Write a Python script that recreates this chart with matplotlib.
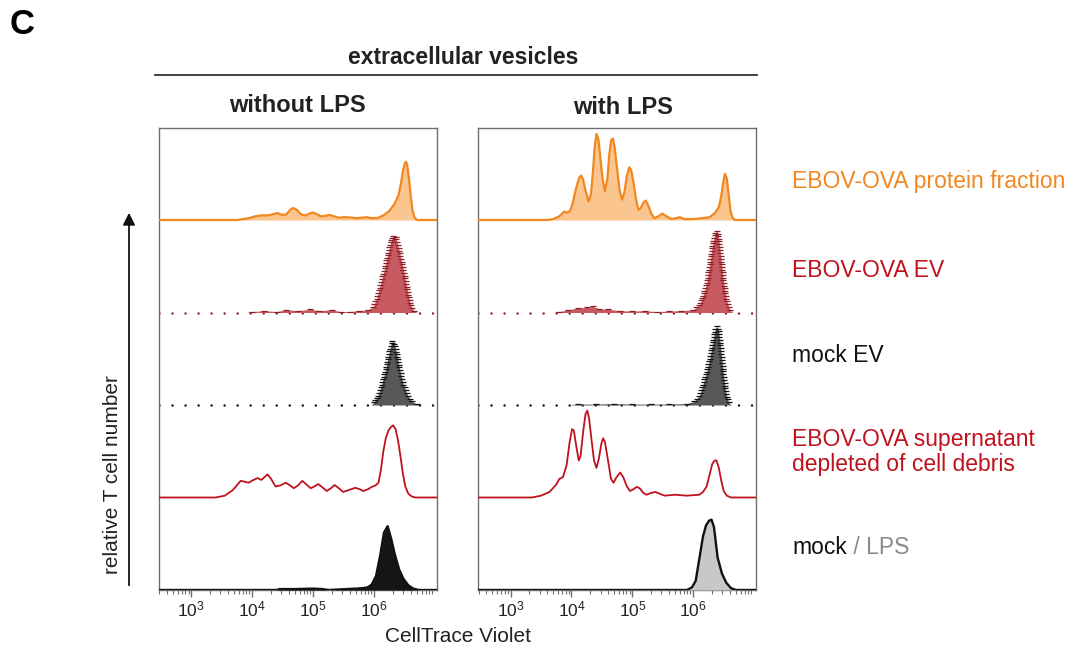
"""Stacked CellTrace Violet histograms (T cell proliferation), panel C."""

import matplotlib
matplotlib.use("Agg")
import matplotlib.pyplot as plt
import numpy as np
from matplotlib.lines import Line2D
from matplotlib.patches import FancyArrowPatch
from matplotlib.ticker import FixedLocator, FixedFormatter, LogLocator, NullFormatter

plt.rcParams["font.family"] = ["Liberation Sans", "DejaVu Sans"]
plt.rcParams["mathtext.fontset"] = "custom"
plt.rcParams["mathtext.rm"] = "Liberation Sans"

# --- data: x in log10(CellTrace Violet), y as fraction of one row height ---
ROW_LABELS = [
    "EBOV-OVA protein fraction",
    "EBOV-OVA EV",
    "mock EV",
    "EBOV-OVA supernatant\ndepleted of cell debris",
    "mock",
]
PANEL_TITLES = ["without LPS", "with LPS"]
TICK_DECADES = [3, 4, 5, 6]

# protein fraction
prot_wo_x = [2.47, 3.75, 3.85, 3.95, 4.05, 4.15, 4.25, 4.33, 4.41, 4.49, 4.56, 4.62, 4.67, 4.73, 4.80,
             4.88, 4.94, 4.99, 5.05, 5.13, 5.20, 5.27, 5.34, 5.42, 5.50, 5.56, 5.63, 5.72, 5.80, 5.88,
             5.95, 6.05, 6.15, 6.25, 6.33, 6.40, 6.44, 6.47, 6.50, 6.52, 6.54, 6.57, 6.60, 6.63, 6.66,
             6.70, 7.03]
prot_wo_y = [0, 0, 0.01, 0.02, 0.04, 0.05, 0.05, 0.06, 0.075, 0.055, 0.06, 0.11, 0.13, 0.11, 0.06,
             0.05, 0.07, 0.08, 0.065, 0.04, 0.045, 0.055, 0.04, 0.025, 0.03, 0.03, 0.025, 0.02, 0.025, 0.03,
             0.02, 0.02, 0.05, 0.10, 0.17, 0.27, 0.40, 0.53, 0.61, 0.63, 0.60, 0.45, 0.25, 0.10, 0.03,
             0, 0]
prot_w_x = [2.47, 3.60, 3.70, 3.80, 3.88, 3.93, 3.98, 4.02, 4.06, 4.10, 4.13, 4.16, 4.19, 4.23, 4.28,
            4.32, 4.35, 4.38, 4.41, 4.44, 4.47, 4.51, 4.55, 4.59, 4.62, 4.65, 4.68, 4.71, 4.75, 4.79,
            4.83, 4.87, 4.91, 4.95, 4.98, 5.02, 5.06, 5.10, 5.14, 5.18, 5.22, 5.26, 5.31, 5.36, 5.43,
            5.49, 5.56, 5.64, 5.72, 5.78, 5.85, 6.00, 6.15, 6.27, 6.36, 6.42, 6.46, 6.49, 6.52, 6.55,
            6.58, 6.61, 6.64, 6.68, 7.03]
prot_w_y = [0, 0, 0.01, 0.04, 0.09, 0.08, 0.10, 0.18, 0.30, 0.40, 0.46, 0.48, 0.44, 0.32, 0.20,
            0.28, 0.50, 0.78, 0.93, 0.88, 0.70, 0.45, 0.31, 0.45, 0.70, 0.86, 0.88, 0.78, 0.55, 0.32,
            0.22, 0.30, 0.48, 0.57, 0.54, 0.40, 0.22, 0.11, 0.13, 0.19, 0.21, 0.16, 0.07, 0.02, 0.04,
            0.07, 0.04, 0.01, 0.02, 0.03, 0.01, 0.01, 0.02, 0.03, 0.08, 0.14, 0.26, 0.40, 0.50, 0.45,
            0.28, 0.10, 0.03, 0, 0]

# EBOV-OVA EV
ev_wo_x = [2.47, 3.90, 4.00, 4.20, 4.40, 4.55, 4.75, 4.95, 5.10, 5.30, 5.45, 5.60, 5.75, 5.90, 5.98,
           6.04, 6.10, 6.16, 6.22, 6.27, 6.31, 6.35, 6.40, 6.45, 6.50, 6.55, 6.60, 6.65, 6.70, 7.03]
ev_wo_y = [0, 0, 0.01, 0.02, 0.01, 0.03, 0.02, 0.035, 0.02, 0.03, 0.01, 0.01, 0.02, 0.03, 0.06,
           0.15, 0.30, 0.45, 0.62, 0.76, 0.83, 0.82, 0.70, 0.55, 0.40, 0.22, 0.08, 0.02, 0, 0]
ev_w_x = [2.47, 3.70, 3.80, 3.95, 4.10, 4.25, 4.35, 4.45, 4.60, 4.80, 5.00, 5.20, 5.40, 5.60, 5.80,
          6.00, 6.10, 6.16, 6.22, 6.27, 6.32, 6.36, 6.39, 6.42, 6.46, 6.50, 6.55, 6.60, 6.65, 7.03]
ev_w_y = [0, 0, 0.01, 0.03, 0.05, 0.055, 0.065, 0.04, 0.035, 0.02, 0.015, 0.02, 0.01, 0.015, 0.02,
          0.03, 0.08, 0.18, 0.32, 0.52, 0.75, 0.86, 0.88, 0.80, 0.55, 0.32, 0.12, 0.03, 0, 0]

# mock EV
mev_wo_x = [2.47, 5.95, 6.00, 6.06, 6.12, 6.18, 6.23, 6.27, 6.30, 6.33, 6.37, 6.42, 6.48, 6.55,
            6.62, 6.70, 6.76, 7.03]
mev_wo_y = [0, 0, 0.03, 0.10, 0.22, 0.36, 0.52, 0.64, 0.69, 0.66, 0.55, 0.38, 0.22, 0.10,
            0.04, 0.01, 0, 0]
mev_w_x = [2.47, 3.90, 4.10, 4.40, 4.70, 5.00, 5.30, 5.60, 5.90, 6.02, 6.10, 6.16, 6.22, 6.27,
           6.32, 6.36, 6.39, 6.42, 6.46, 6.50, 6.54, 6.58, 6.62, 7.03]
mev_w_y = [0, 0, 0.01, 0.01, 0.015, 0.01, 0.01, 0.01, 0.015, 0.04, 0.10, 0.22, 0.36, 0.50,
           0.68, 0.82, 0.85, 0.80, 0.55, 0.30, 0.12, 0.03, 0, 0]

# supernatant depleted of cell debris
sup_wo_x = [2.47, 3.40, 3.55, 3.68, 3.81, 3.88, 3.94, 4.02, 4.09, 4.15, 4.20, 4.25, 4.31, 4.38, 4.46,
            4.55, 4.62, 4.68, 4.75, 4.82, 4.89, 4.96, 5.02, 5.08, 5.15, 5.22, 5.29, 5.35, 5.42, 5.49,
            5.58, 5.69, 5.76, 5.82, 5.90, 5.96, 6.02, 6.07, 6.11, 6.15, 6.19, 6.23, 6.27, 6.31, 6.35,
            6.39, 6.43, 6.47, 6.51, 6.56, 6.62, 6.68, 7.03]
sup_wo_y = [0, 0, 0.02, 0.08, 0.18, 0.17, 0.16, 0.19, 0.21, 0.19, 0.22, 0.25, 0.20, 0.12, 0.13,
            0.16, 0.13, 0.10, 0.13, 0.18, 0.14, 0.10, 0.12, 0.145, 0.11, 0.07, 0.10, 0.135, 0.10, 0.06,
            0.08, 0.105, 0.09, 0.07, 0.09, 0.115, 0.13, 0.16, 0.30, 0.50, 0.64, 0.72, 0.76, 0.78, 0.74,
            0.62, 0.45, 0.26, 0.12, 0.04, 0.01, 0, 0]
sup_w_x = [2.47, 3.35, 3.50, 3.64, 3.75, 3.80, 3.86, 3.92, 3.97, 4.01, 4.04, 4.08, 4.12, 4.15, 4.19,
           4.23, 4.26, 4.29, 4.33, 4.37, 4.41, 4.45, 4.49, 4.52, 4.55, 4.60, 4.65, 4.69, 4.74, 4.80,
           4.85, 4.91, 4.96, 5.02, 5.07, 5.12, 5.18, 5.23, 5.31, 5.38, 5.45, 5.53, 5.62, 5.70, 5.80,
           5.89, 6.00, 6.10, 6.16, 6.22, 6.27, 6.31, 6.35, 6.38, 6.42, 6.46, 6.50, 6.55, 6.62, 7.03]
sup_w_y = [0, 0, 0.02, 0.06, 0.14, 0.20, 0.22, 0.35, 0.60, 0.74, 0.72, 0.55, 0.40, 0.45, 0.70,
           0.90, 0.94, 0.85, 0.62, 0.40, 0.32, 0.42, 0.58, 0.64, 0.60, 0.40, 0.20, 0.16, 0.22, 0.27,
           0.22, 0.12, 0.07, 0.09, 0.115, 0.10, 0.05, 0.03, 0.05, 0.06, 0.04, 0.02, 0.025, 0.03, 0.025,
           0.02, 0.025, 0.03, 0.06, 0.12, 0.25, 0.36, 0.40, 0.40, 0.32, 0.18, 0.07, 0.02, 0, 0]

# mock (left) / LPS (right)
mock_wo_x = [2.47, 4.40, 4.45, 4.70, 5.00, 5.15, 5.25, 5.40, 5.55, 5.70, 5.82, 5.90, 5.96, 6.03,
             6.10, 6.16, 6.22, 6.28, 6.34, 6.41, 6.48, 6.56, 6.64, 6.73, 7.03]
mock_wo_y = [0, 0, 0.01, 0.01, 0.015, 0.01, 0, 0.005, 0.01, 0.015, 0.02, 0.03, 0.06, 0.15,
             0.38, 0.62, 0.69, 0.55, 0.38, 0.22, 0.12, 0.05, 0.015, 0, 0]
lps_w_x = [2.47, 5.90, 5.98, 6.04, 6.10, 6.16, 6.21, 6.26, 6.30, 6.34, 6.40, 6.47, 6.54, 6.62,
           6.70, 7.03]
lps_w_y = [0, 0, 0.03, 0.10, 0.34, 0.58, 0.70, 0.75, 0.76, 0.68, 0.35, 0.18, 0.08, 0.02, 0, 0]

PANELS = [
    [(prot_wo_x, prot_wo_y), (ev_wo_x, ev_wo_y), (mev_wo_x, mev_wo_y),
     (sup_wo_x, sup_wo_y), (mock_wo_x, mock_wo_y)],
    [(prot_w_x, prot_w_y), (ev_w_x, ev_w_y), (mev_w_x, mev_w_y),
     (sup_w_x, sup_w_y), (lps_w_x, lps_w_y)],
]

# --- styling ---
ORANGE = "#F0881F"
ORANGE_FILL = "#FBC590"
RED = "#C0121C"
EV_FILL = "#C75A60"
EV_MARK = "#8C1E25"
MEV_FILL = "#585858"
FRAME = "#6f6f6f"
LPS_GRAY = "#8a8a8a"

W, H = 1074, 652
XLIM = (10 ** 2.47, 10 ** 7.03)


def fx(px):
    return px / W


def fy(py):
    return 1 - py / H


def ladder(ax, x, y, base, color):
    """Horizontal dash markers stepped along the outline (flow-cytometry style)."""
    px, py = [], []
    for i in range(len(x) - 1):
        n = max(1, int(np.ceil(abs(y[i + 1] - y[i]) / 0.032)))
        for t in np.linspace(0, 1, n, endpoint=False):
            px.append(x[i] + t * (x[i + 1] - x[i]))
            py.append(y[i] + t * (y[i + 1] - y[i]))
    px, py = np.array(px), np.array(py)
    keep = py > 0.004
    ax.plot(10 ** px[keep], base + py[keep], ls="none", marker="_", ms=4.5, mew=0.9,
            color=color, zorder=4)


def dotted_base(ax, base, color):
    ax.plot(XLIM, [base, base], color=color, lw=1.8, ls=(0, (0.01, 5.2)),
            dash_capstyle="round", zorder=2)


def draw_panel(ax, curves, right):
    for i, (x, y) in enumerate(curves):
        base = 4 - i
        xs = 10 ** np.asarray(x)
        ys = base + np.asarray(y)
        if i == 0:
            ax.fill_between(xs, base, ys, color=ORANGE_FILL, lw=0, zorder=3)
            ax.plot(xs, ys, color=ORANGE, lw=1.6, zorder=4)
        elif i == 1:
            dotted_base(ax, base, EV_MARK)
            ax.fill_between(xs, base, ys, color=EV_FILL, lw=0, zorder=3)
            ladder(ax, x, y, base, EV_MARK)
        elif i == 2:
            dotted_base(ax, base, "#111111")
            ax.fill_between(xs, base, ys, color=MEV_FILL, lw=0, zorder=3)
            ladder(ax, x, y, base, "#111111")
        elif i == 3:
            ax.plot(xs, ys, color=RED, lw=1.3, zorder=4)
        else:
            fill = "#C8C8C8" if right else "#151515"
            ax.fill_between(xs, base, ys, color=fill, lw=0, zorder=3)
            ax.plot(xs, ys, color="#111111", lw=1.7, zorder=4)

    ax.set_xscale("log")
    ax.set_xlim(*XLIM)
    ax.set_ylim(0, 5)
    ax.set_yticks([])
    ax.xaxis.set_major_locator(FixedLocator([10.0 ** d for d in TICK_DECADES]))
    ax.xaxis.set_major_formatter(FixedFormatter([rf"$\mathregular{{10^{{{d}}}}}$" for d in TICK_DECADES]))
    ax.xaxis.set_minor_locator(LogLocator(base=10, subs=np.arange(2, 10), numticks=30))
    ax.xaxis.set_minor_formatter(NullFormatter())
    ax.tick_params(axis="x", which="major", length=5, width=1, color=FRAME, labelsize=12.5,
                   pad=2, labelcolor="#222222")
    ax.tick_params(axis="x", which="minor", length=3, width=0.8, color=FRAME)
    for sp in ax.spines.values():
        sp.set_color(FRAME)
        sp.set_linewidth(1.0)


fig = plt.figure(figsize=(W / 100, H / 100), dpi=100, facecolor="white")
ax_l = fig.add_axes([fx(159), fy(590), fx(437 - 159), (590 - 127.5) / H])
ax_r = fig.add_axes([fx(478.3), fy(590), fx(756 - 478.3), (590 - 127.5) / H])
draw_panel(ax_l, PANELS[0], right=False)
draw_panel(ax_r, PANELS[1], right=True)

# headers
fig.text(fx(22), fy(25), "C", fontsize=25, fontweight="bold", ha="center", va="center")
fig.text(fx(463), fy(57), "extracellular vesicles", fontsize=16.5, fontweight="bold",
         ha="center", va="center", color="#222222")
fig.add_artist(Line2D([fx(155), fx(757)], [fy(75), fy(75)], color="#222222", lw=1.2))
fig.text(fx(297), fy(106), PANEL_TITLES[0], fontsize=17, fontweight="bold",
         ha="center", va="center", color="#222222")
fig.text(fx(623), fy(107), PANEL_TITLES[1], fontsize=17, fontweight="bold",
         ha="center", va="center", color="#222222")

# row labels on the right
label_y = [181, 270, 356, 452, 548]
label_c = [ORANGE, RED, "#111111", RED, "#111111"]
for txt, yy, cc in zip(ROW_LABELS, label_y, label_c):
    t = fig.text(fx(792), fy(yy), txt, fontsize=16.5, ha="left", va="center", color=cc,
                 linespacing=1.1)
ax_l.annotate(" / LPS", xy=(1, 0), xycoords=t, ha="left", va="bottom", fontsize=16.5,
              color=LPS_GRAY, annotation_clip=False)

# y axis arrow + label
fig.add_artist(FancyArrowPatch((fx(129), fy(588)), (fx(129), fy(210)),
                               transform=fig.transFigure, arrowstyle="-|>",
                               mutation_scale=18, lw=1.3, color="#111111"))
fig.text(fx(112), fy(475), "relative T cell number", rotation=90, fontsize=15,
         ha="center", va="center", color="#222222")
fig.text(fx(458), fy(637), "CellTrace Violet", fontsize=15, ha="center", va="center",
         color="#222222")

fig.savefig("out.png", dpi=100, facecolor="white")
